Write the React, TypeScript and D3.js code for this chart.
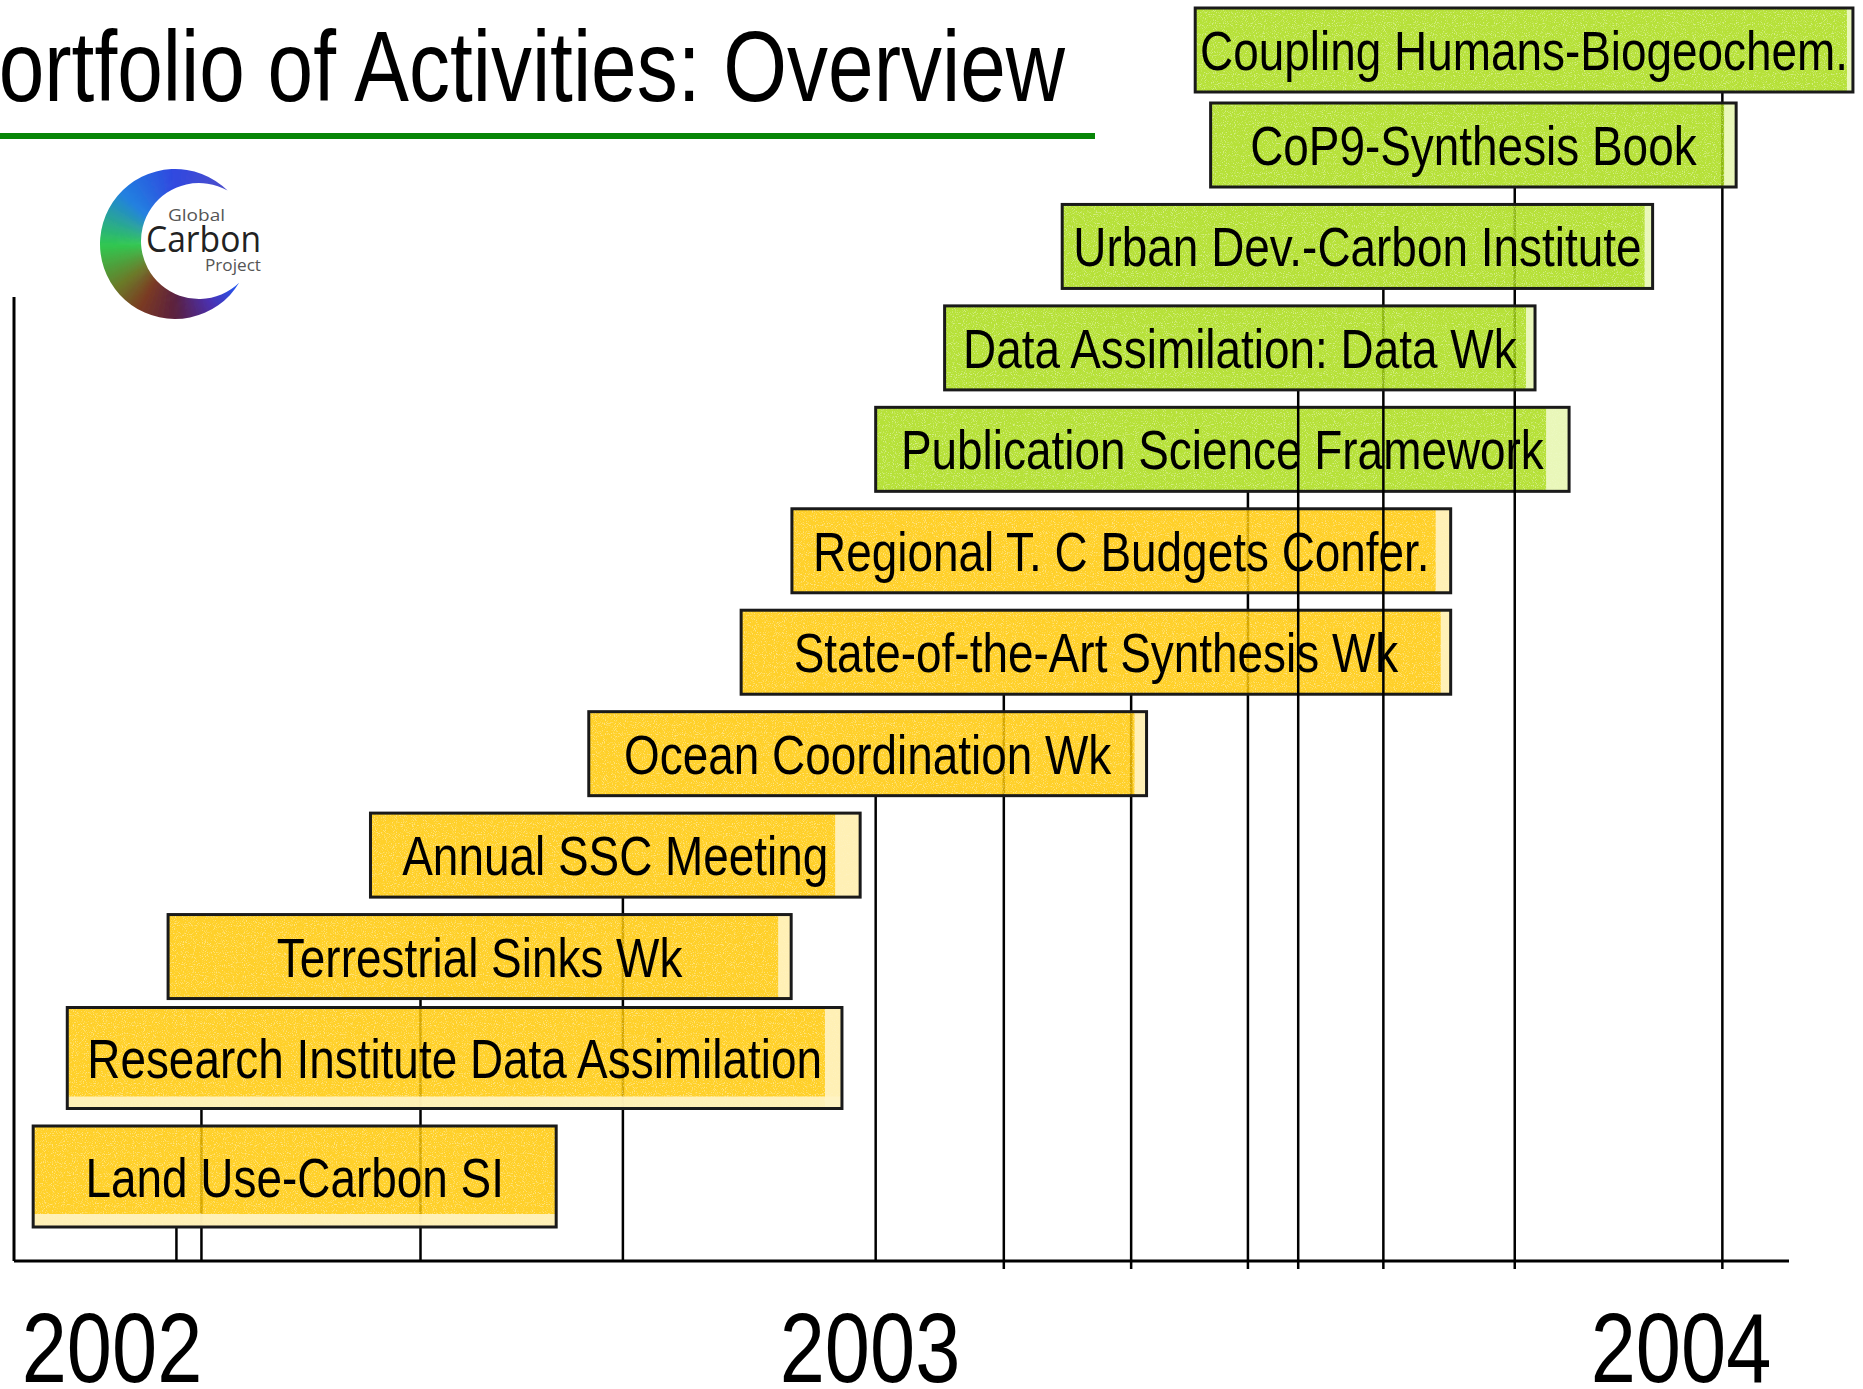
import React, { useMemo } from "react";
import * as d3 from "d3";

const W = 1863;
const H = 1389;

// ---------- data ----------
const yearTicks = [2002, 2003, 2004];
const activities = [
  "Coupling Humans-Biogeochem.",
  "CoP9-Synthesis Book",
  "Urban Dev.-Carbon Institute",
  "Data Assimilation: Data Wk",
  "Publication Science Framework",
  "Regional T. C Budgets Confer.",
  "State-of-the-Art Synthesis Wk",
  "Ocean Coordination Wk",
  "Annual SSC Meeting",
  "Terrestrial Sinks Wk",
  "Research Institute Data Assimilation",
  "Land Use-Carbon SI",
];
const status = [
  "planned", "planned", "planned", "planned", "planned",
  "underway", "underway", "underway", "underway", "underway", "underway", "underway",
];
const startDates = [2003.401, 2003.42, 2003.237, 2003.092, 2003.007, 2002.897, 2002.83, 2002.629, 2002.341, 2002.074, 2001.941, 2001.896];
const endDates = [2004.212, 2004.068, 2003.965, 2003.82, 2003.862, 2003.716, 2003.716, 2003.341, 2002.987, 2002.896, 2002.963, 2002.586];
const milestoneDates = [2004.051, 2003.795, 2003.633, 2003.528, 2003.466, 2003.322, 2003.165, 2003.007, 2002.674, 2002.407, 2002.118, 2002.085];
const milestoneRows = [0, 1, 2, 3, 4, 6, 6, 7, 8, 9, 10, 11];

// ---------- layout / style ----------
const fillFor: Record<string, string> = { planned: "#A8DB12", underway: "#FFC700" };
const paleFor: Record<string, string> = { planned: "#EEF9C8", underway: "#FFF3C4" };
const rightStrip = [6, 12, 8, 9, 23, 15, 10, 12, 25, 13, 17, 0];
const bottomBand = [0, 0, 0, 0, 0, 0, 0, 0, 0, 0, 12, 13];
const lowBoxes = new Set([4, 5, 6]);
const topLines = new Set([1, 2, 3]);

function useNarrow() {
  return useMemo(() => {
    try {
      const c = document.createElement("canvas").getContext("2d")!;
      const s = "Portfolio of Activities Overview";
      c.font = "50px monospace";
      const a = c.measureText(s).width;
      c.font = '50px "Liberation Sans Narrow", monospace';
      const b = c.measureText(s).width;
      return Math.abs(a - b) > 1;
    } catch (e) {
      return false;
    }
  }, []);
}

function NText({ x, y, size, anchor = "start", narrow, children, fill = "#000" }: any) {
  if (narrow) {
    return (
      <text x={x} y={y} fontSize={size} textAnchor={anchor} fill={fill}
        fontFamily='"Liberation Sans Narrow", "Arial Narrow", sans-serif'>
        {children}
      </text>
    );
  }
  return (
    <g transform={`translate(${x},${y}) scale(0.82,1)`}>
      <text x={0} y={0} fontSize={size} textAnchor={anchor} fill={fill}
        fontFamily='"Liberation Sans", Arial, sans-serif'>
        {children}
      </text>
    </g>
  );
}

function Logo() {
  const oc = [175, 244], oR = 75;
  const ic = [199, 241], iR = 58;
  const dx = ic[0] - oc[0], dy = ic[1] - oc[1];
  const d = Math.hypot(dx, dy);
  const a = (oR * oR - iR * iR + d * d) / (2 * d);
  const h = Math.sqrt(Math.max(0, oR * oR - a * a));
  const mx = oc[0] + (a * dx) / d, my = oc[1] + (a * dy) / d;
  const p1 = [mx + (h * dy) / d, my - (h * dx) / d];
  const p2 = [mx - (h * dy) / d, my + (h * dx) / d];
  const top = p1[1] < p2[1] ? p1 : p2;
  const bot = p1[1] < p2[1] ? p2 : p1;
  const path = `M${top[0]},${top[1]} A${oR},${oR} 0 1 0 ${bot[0]},${bot[1]} A${iR},${iR} 0 1 1 ${top[0]},${top[1]} Z`;
  const col = d3
    .scaleLinear<string>()
    .domain([0, 49, 94, 139, 174, 199, 229, 259, 290])
    .range(["#5050c8", "#3048e0", "#2080e0", "#30c850", "#6a7a28", "#7a3a22", "#5a2040", "#4a30b0", "#1e60ff"])
    .interpolate(d3.interpolateRgb)
    .clamp(true);
  const arc = d3.arc();
  const wedges = d3.range(0, 300, 2).map((t) => {
    const deg = 49 - t;
    const s = (deg * Math.PI) / 180;
    return { path: arc({ innerRadius: 0, outerRadius: 90, startAngle: s - (2.6 * Math.PI) / 180, endAngle: s } as any)!, c: col(t) };
  });
  return (
    <g>
      <defs>
        <clipPath id="crescent"><path d={path} /></clipPath>
        <filter id="soft"><feGaussianBlur stdDeviation="1" /></filter>
      </defs>
      <g clipPath="url(#crescent)" filter="url(#soft)">
        <g transform={`translate(${oc[0]},${oc[1]})`}>
          {wedges.map((w, i) => <path key={i} d={w.path} fill={w.c} />)}
        </g>
      </g>
      <text x={168} y={221} fontSize={16} fill="#555" fontFamily="'Open Sans', sans-serif" textLength={57} lengthAdjust="spacingAndGlyphs">Global</text>
      <text x={146} y={252} fontSize={37} fill="#222" fontFamily="'Open Sans', sans-serif" textLength={115} lengthAdjust="spacingAndGlyphs">Carbon</text>
      <text x={205} y={271} fontSize={16} fill="#555" fontFamily="'Open Sans', sans-serif" textLength={56} lengthAdjust="spacingAndGlyphs">Project</text>
    </g>
  );
}

export default function App() {
  const narrow = useNarrow();
  const x = d3.scaleLinear().domain(yearTicks).range([112, 870, 1681]);
  const rowY = d3.scaleLinear().domain([0, 1, 10, 11]).range([50, 145, 1058, 1176.5]);
  const boxH = (i: number) => (i >= 10 ? 101 : 84);
  const axisY = 1261;
  const axisX0 = 14, axisX1 = 1789;

  const items: any[] = [];
  activities.forEach((_, i) => items.push({ kind: "box", i, z: lowBoxes.has(i) ? 1 : 10 }));
  milestoneDates.forEach((_, j) => items.push({ kind: "line", j, z: topLines.has(j) ? 5 : 0 }));
  items.sort((a, b) => a.z - b.z);

  const renderBox = (i: number) => {
    const x0 = x(startDates[i]);
    const x1 = x(endDates[i]);
    const h = boxH(i);
    const y0 = rowY(i) - h / 2;
    const w = x1 - x0;
    const st = status[i];
    return (
      <g key={"b" + i}>
        <rect x={x0} y={y0} width={w} height={h} fill={fillFor[st]} fillOpacity={0.84} />
        <rect x={x0} y={y0} width={w} height={h} fill="#fff" opacity={0.4} filter="url(#speckle)" />
        {rightStrip[i] > 0 && (
          <rect x={x1 - rightStrip[i]} y={y0} width={rightStrip[i]} height={h} fill={paleFor[st]} fillOpacity={0.9} />
        )}
        {bottomBand[i] > 0 && (
          <rect x={x0} y={y0 + h - bottomBand[i]} width={w} height={bottomBand[i]} fill={paleFor[st]} fillOpacity={0.9} />
        )}
        <rect x={x0} y={y0} width={w} height={h} fill="none" stroke="#1a1a1a" strokeWidth={3} />
        <NText x={(x0 + x1) / 2} y={rowY(i) + 20} size={56} anchor="middle" narrow={narrow}>
          {activities[i]}
        </NText>
      </g>
    );
  };

  const renderLine = (j: number) => {
    const r = milestoneRows[j];
    const xx = x(milestoneDates[j]);
    const yTop = rowY(r) + boxH(r) / 2;
    const yBot = axisY + (milestoneDates[j] >= 2003.1 ? 8 : 0);
    return <line key={"l" + j} x1={xx} x2={xx} y1={yTop} y2={yBot} stroke="#000" strokeWidth={2.5} />;
  };

  return (
    <svg width={W} height={H} style={{ position: "absolute", left: 0, top: 0, display: "block", background: "#fff" }}>
      <defs>
        <filter id="speckle" x="0" y="0" width="1" height="1">
          <feTurbulence type="fractalNoise" baseFrequency="0.9" numOctaves={1} seed={7} result="noise" />
          <feColorMatrix in="noise" type="matrix" values="0 0 0 0 1  0 0 0 0 1  0 0 0 0 1  6 0 0 0 -3.2" result="spots" />
          <feComposite in="spots" in2="SourceGraphic" operator="in" />
        </filter>
      </defs>
      <rect x={0} y={0} width={W} height={H} fill="#fff" />

      {/* title */}
      <NText x={-56} y={101} size={100} narrow={narrow}>Portfolio of Activities: Overview</NText>
      <rect x={0} y={133} width={1095} height={6} fill="#078507" />

      <Logo />

      {/* left frame line */}
      <line x1={axisX0} x2={axisX0} y1={297} y2={axisY} stroke="#000" strokeWidth={3} />

      {items.map((it) => (it.kind === "box" ? renderBox(it.i) : renderLine(it.j)))}

      {/* time axis */}
      <line x1={axisX0} x2={axisX1} y1={axisY} y2={axisY} stroke="#000" strokeWidth={3} />
      {yearTicks.map((yv) => (
        <NText key={yv} x={x(yv)} y={1382} size={99} anchor="middle" narrow={narrow}>
          {String(yv)}
        </NText>
      ))}
    </svg>
  );
}
